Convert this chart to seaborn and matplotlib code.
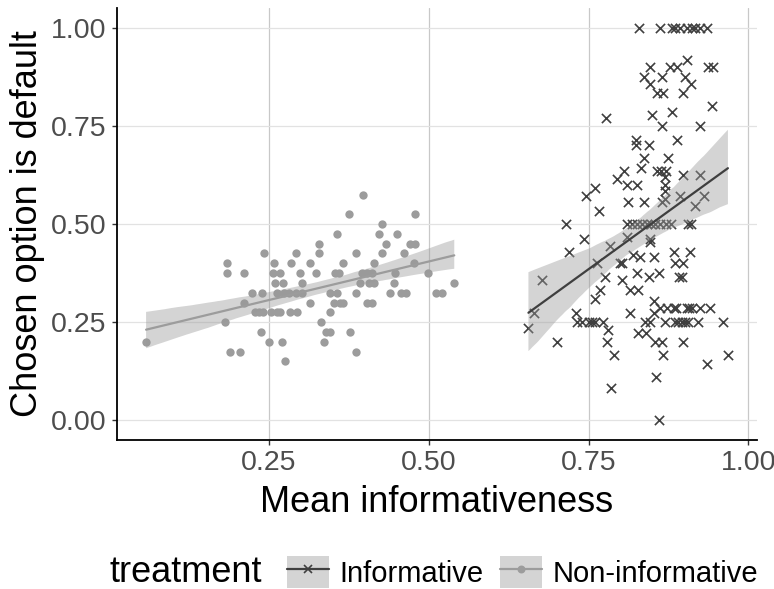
import numpy as np
import pandas as pd
import matplotlib.pyplot as plt
from matplotlib.patches import Patch
from matplotlib.lines import Line2D
from matplotlib.legend_handler import HandlerTuple
import seaborn as sns

# Non-informative treatment (mean informativeness, share choosing default)
noninf_x = [0.058, 0.182, 0.185, 0.185, 0.190, 0.205, 0.211, 0.211, 0.223, 0.240,
            0.242, 0.237, 0.229, 0.235, 0.241, 0.250, 0.270, 0.275, 0.253, 0.262,
            0.268, 0.283, 0.294, 0.258, 0.257, 0.267, 0.260, 0.272, 0.263, 0.273,
            0.281, 0.292, 0.302, 0.285, 0.293, 0.298, 0.302, 0.315, 0.314, 0.328,
            0.328, 0.323, 0.331, 0.339, 0.346, 0.336, 0.345, 0.345, 0.357, 0.352,
            0.362, 0.366, 0.354, 0.359, 0.357, 0.366, 0.376, 0.377, 0.387, 0.387,
            0.387, 0.392, 0.396, 0.404, 0.412, 0.398, 0.403, 0.412, 0.406, 0.415,
            0.415, 0.423, 0.427, 0.427, 0.433, 0.440, 0.446, 0.448, 0.451, 0.456,
            0.464, 0.461, 0.471, 0.478, 0.477, 0.478, 0.499, 0.512, 0.521, 0.540]
noninf_y = [0.200, 0.250, 0.400, 0.375, 0.175, 0.175, 0.375, 0.300, 0.325, 0.325,
            0.425, 0.225, 0.275, 0.275, 0.275, 0.200, 0.200, 0.150, 0.275, 0.275,
            0.275, 0.275, 0.275, 0.400, 0.375, 0.375, 0.350, 0.350, 0.325, 0.325,
            0.325, 0.325, 0.325, 0.400, 0.425, 0.375, 0.350, 0.300, 0.400, 0.450,
            0.425, 0.375, 0.250, 0.225, 0.225, 0.200, 0.275, 0.325, 0.325, 0.300,
            0.300, 0.300, 0.375, 0.375, 0.475, 0.400, 0.525, 0.225, 0.175, 0.425,
            0.325, 0.350, 0.375, 0.375, 0.375, 0.575, 0.300, 0.300, 0.350, 0.350,
            0.400, 0.475, 0.500, 0.425, 0.450, 0.325, 0.350, 0.375, 0.475, 0.325,
            0.325, 0.425, 0.450, 0.450, 0.400, 0.525, 0.375, 0.325, 0.325, 0.350]

# Informative treatment
inf_x = [0.829, 0.862, 0.880, 0.885, 0.893, 0.904, 0.912, 0.917, 0.924, 0.935,
         0.846, 0.877, 0.888, 0.904, 0.937, 0.945, 0.836, 0.865, 0.901, 0.846,
         0.910, 0.857, 0.867, 0.898, 0.850, 0.880, 0.943, 0.865, 0.924, 0.777,
         0.824, 0.824, 0.844, 0.888, 0.836, 0.875, 0.832, 0.805, 0.795, 0.810,
         0.826, 0.857, 0.864, 0.871, 0.870, 0.870, 0.870, 0.898, 0.924, 0.760,
         0.746, 0.766, 0.715, 0.812, 0.836, 0.865, 0.870, 0.893, 0.930, 0.917,
         0.810, 0.818, 0.826, 0.834, 0.842, 0.848, 0.854, 0.862, 0.871, 0.879,
         0.906, 0.911, 0.743, 0.719, 0.783, 0.678, 0.665, 0.656, 0.700, 0.764,
         0.810, 0.846, 0.846, 0.800, 0.802, 0.820, 0.831, 0.852, 0.883, 0.908,
         0.885, 0.898, 0.826, 0.844, 0.861, 0.891, 0.896, 0.776, 0.802, 0.815,
         0.828, 0.768, 0.760, 0.730, 0.852, 0.862, 0.873, 0.883, 0.887, 0.904,
         0.907, 0.912, 0.924, 0.940, 0.815, 0.853, 0.732, 0.740, 0.750, 0.755,
         0.760, 0.773, 0.839, 0.846, 0.870, 0.885, 0.890, 0.896, 0.901, 0.906,
         0.922, 0.961, 0.781, 0.828, 0.840, 0.854, 0.865, 0.897, 0.779, 0.790,
         0.867, 0.968, 0.936, 0.855, 0.785, 0.861]
inf_y = [1.000, 1.000, 1.000, 1.000, 1.000, 1.000, 1.000, 1.000, 1.000, 1.000,
         0.900, 0.900, 0.900, 0.917, 0.900, 0.900, 0.875, 0.875, 0.875, 0.857,
         0.857, 0.833, 0.833, 0.833, 0.778, 0.786, 0.800, 0.750, 0.750, 0.771,
         0.714, 0.700, 0.700, 0.714, 0.667, 0.667, 0.643, 0.636, 0.615, 0.600,
         0.600, 0.636, 0.636, 0.636, 0.620, 0.600, 0.583, 0.625, 0.625, 0.591,
         0.571, 0.533, 0.500, 0.556, 0.556, 0.556, 0.563, 0.571, 0.571, 0.545,
         0.500, 0.500, 0.500, 0.500, 0.500, 0.500, 0.500, 0.500, 0.500, 0.500,
         0.500, 0.500, 0.462, 0.429, 0.444, 0.357, 0.273, 0.235, 0.200, 0.400,
         0.467, 0.462, 0.455, 0.400, 0.400, 0.421, 0.417, 0.417, 0.429, 0.429,
         0.400, 0.400, 0.375, 0.364, 0.375, 0.364, 0.364, 0.364, 0.357, 0.333,
         0.333, 0.333, 0.308, 0.273, 0.304, 0.286, 0.286, 0.286, 0.286, 0.286,
         0.286, 0.286, 0.286, 0.286, 0.273, 0.273, 0.250, 0.250, 0.250, 0.250,
         0.250, 0.250, 0.250, 0.250, 0.250, 0.250, 0.250, 0.250, 0.250, 0.250,
         0.250, 0.250, 0.231, 0.222, 0.222, 0.200, 0.200, 0.200, 0.200, 0.167,
         0.167, 0.167, 0.143, 0.111, 0.083, 0.000]

groups = ["Informative", "Non-informative"]
colors = {"Informative": "#3f3f3f", "Non-informative": "#9c9c9c"}

df = pd.concat([
    pd.DataFrame({"x": inf_x, "y": inf_y, "treatment": "Informative"}),
    pd.DataFrame({"x": noninf_x, "y": noninf_y, "treatment": "Non-informative"}),
])

sns.set_style("white")
plt.rcParams['font.family'] = ['Liberation Sans', 'DejaVu Sans']
plt.rcParams['text.color'] = 'black'
plt.rcParams['axes.labelcolor'] = 'black'

fig = plt.figure(figsize=(7.74, 5.89), dpi=100)
ax = fig.add_axes([117/774, 1 - 440/589, 640/774, 432/589])

# points first, smooths on top (like ggplot layers)
sns.scatterplot(data=df[df.treatment == "Informative"], x="x", y="y", marker="x",
                color=colors["Informative"], s=44, linewidth=1.2, ax=ax, legend=False)
sns.scatterplot(data=df[df.treatment == "Non-informative"], x="x", y="y", marker="o",
                color=colors["Non-informative"], s=36, linewidth=0, ax=ax, legend=False)

for g in groups:
    n_before = len(ax.collections)
    sns.regplot(data=df[df.treatment == g], x="x", y="y", scatter=False, ci=95,
                seed=1, color=colors[g], line_kws={"lw": 1.6}, ax=ax)
    for c in ax.collections[n_before:]:
        c.set_facecolor("#999999")
        c.set_alpha(0.42)
        c.set_edgecolor("none")

# ggplot-like 5% expansion
xr = df.x.max() - df.x.min()
ax.set_xlim(df.x.min() - 0.05 * xr, df.x.max() + 0.05 * xr)
ax.set_ylim(-0.05, 1.05)
ax.set_xticks([0.25, 0.5, 0.75, 1.0], ["0.25", "0.50", "0.75", "1.00"])
ax.set_yticks([0, 0.25, 0.5, 0.75, 1.0], ["0.00", "0.25", "0.50", "0.75", "1.00"])

ax.set_axisbelow(True)
ax.xaxis.grid(True, color="#c8c8c8", lw=0.9)
ax.yaxis.grid(True, color="#e2e2e2", lw=0.9)
for s in ["top", "right"]:
    ax.spines[s].set_visible(False)
for s in ["left", "bottom"]:
    ax.spines[s].set_color("black")
    ax.spines[s].set_linewidth(1.3)
ax.tick_params(bottom=True, left=True, direction="out", length=3.5, width=1,
               color="#333333", labelsize=20.5, labelcolor="#4d4d4d", pad=4)

ax.set_xlabel("Mean informativeness", fontsize=26, labelpad=6)
ax.set_ylabel("Chosen option is default", fontsize=26, labelpad=4)

# legend along the bottom, title on the left
fig.text(110/774, 1 - 572/589, "treatment", fontsize=26, va="center", ha="left")
handles = []
for g, m in zip(groups, ["x", "o"]):
    handles.append((Patch(facecolor="#999999", alpha=0.42, edgecolor="none"),
                    Line2D([], [], color=colors[g], lw=1.6, marker=m,
                           markersize=6 if m == "x" else 4.5, mew=1.2)))
fig.legend(handles, groups, handler_map={tuple: HandlerTuple(ndivide=1)}, ncol=2,
           loc="center left", bbox_to_anchor=(287/774, 1 - 572/589), frameon=False,
           fontsize=21, handlelength=1.45, handleheight=1.35, handletextpad=0.35,
           columnspacing=0.55, borderpad=0, borderaxespad=0)

fig.savefig("out.png", dpi=100)
